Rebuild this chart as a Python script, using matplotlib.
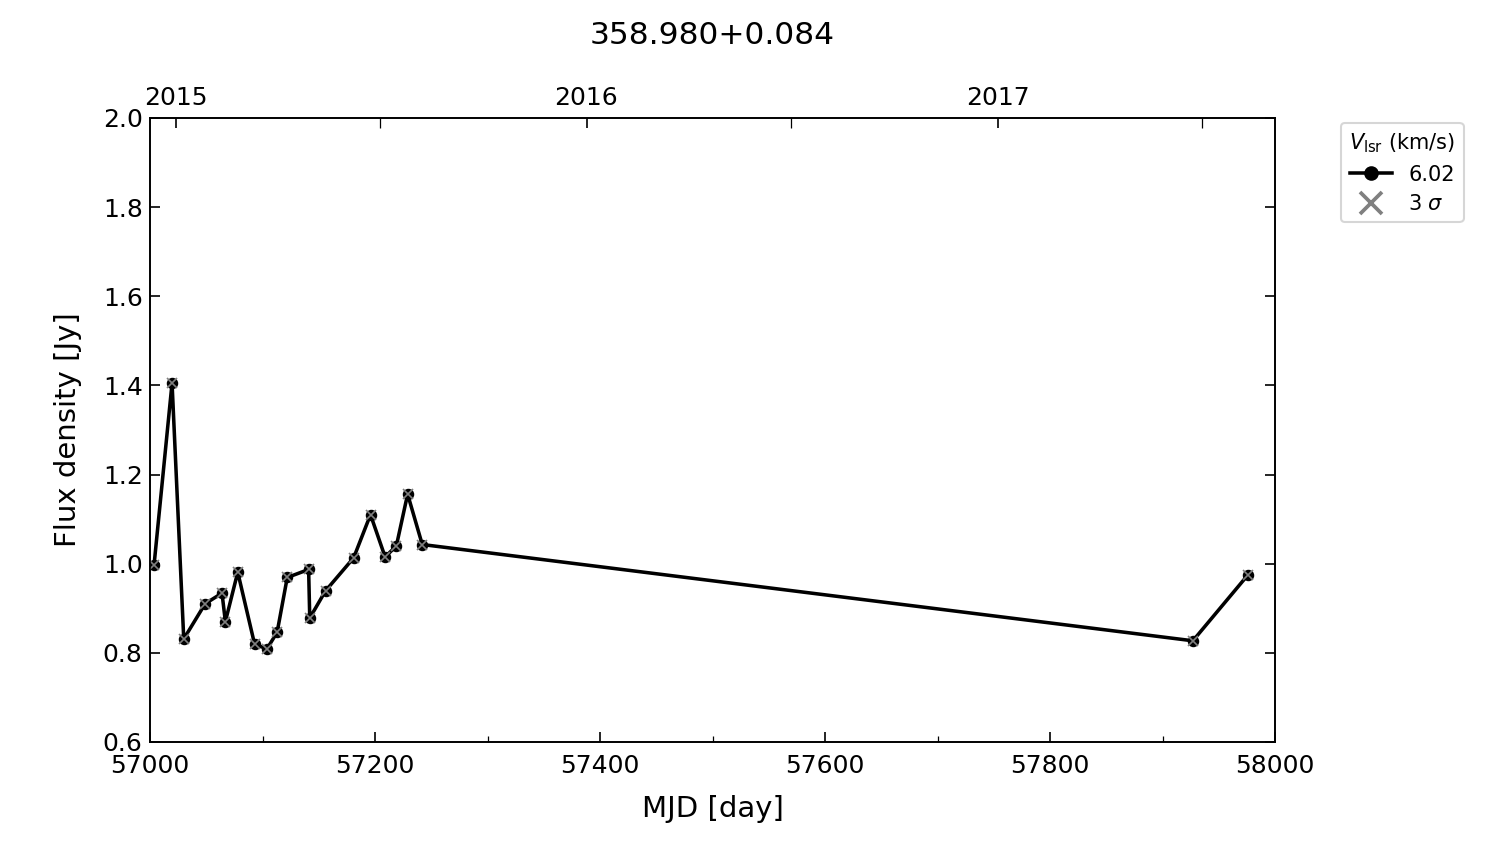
import matplotlib
matplotlib.use("Agg")
import matplotlib.pyplot as plt
from matplotlib.lines import Line2D
from matplotlib.ticker import MultipleLocator, FixedLocator

# Data
mjd = [57003.6, 57019.6, 57030, 57049, 57064, 57067, 57078, 57093, 57104, 57113,
       57122, 57141, 57142, 57156, 57181, 57196, 57209, 57219, 57229, 57242,
       57927, 57976]
flux = [0.997, 1.405, 0.831, 0.910, 0.934, 0.870, 0.981, 0.819, 0.809, 0.846,
        0.969, 0.987, 0.878, 0.939, 1.013, 1.110, 1.015, 1.040, 1.156, 1.043,
        0.827, 0.975]
title = "358.980+0.084"
vlsr_label = "6.02"
year_mjd = [57023, 57388, 57754]
year_labels = ["2015", "2016", "2017"]
halfyear_mjd = [57204, 57570, 57935]

fig = plt.figure(figsize=(10, 5.6267), dpi=150)
ax = fig.add_axes([0.1, 0.1209, 0.75, 0.7393])

ax.plot(mjd, flux, color="black", lw=1.7, marker="o", ms=4.5, zorder=2)
ax.plot(mjd, flux, ls="none", marker="x", ms=5, mew=0.8, color="grey", zorder=3)

ax.set_xlim(57000, 58000)
ax.set_ylim(0.6, 2.0)
ax.xaxis.set_major_locator(MultipleLocator(200))
ax.xaxis.set_minor_locator(MultipleLocator(100))
ax.yaxis.set_major_locator(MultipleLocator(0.2))
ax.tick_params(axis="both", which="both", direction="in", labelsize=12)
ax.tick_params(axis="y", which="both", right=True)
ax.tick_params(which="major", length=5)
ax.tick_params(which="minor", length=3)
ax.tick_params(axis="x", which="major", pad=6)
ax.set_xlabel("MJD [day]", fontsize=14, labelpad=8)
ax.set_ylabel("Flux density [Jy]", fontsize=14, labelpad=10)

ax2 = ax.twiny()
ax2.set_xlim(ax.get_xlim())
ax2.xaxis.set_major_locator(FixedLocator(year_mjd))
ax2.set_xticklabels(year_labels)
ax2.xaxis.set_minor_locator(FixedLocator(halfyear_mjd))
ax2.tick_params(axis="x", which="both", direction="in", labelsize=12, length=5, pad=4)

fig.text(0.475, 1 - 35 / 844, title, fontsize=15, ha="center", va="center")

handles = [
    Line2D([], [], color="black", lw=1.7, marker="o", ms=6),
    Line2D([], [], ls="none", marker="x", ms=11, mew=1.8, color="grey"),
]
ax.legend(handles, [vlsr_label, r"3 $\sigma$"], title=r"$V_{\rm lsr}$ (km/s)",
          loc="upper left", bbox_to_anchor=(1.054, 1.0), fontsize=10,
          title_fontsize=10, handlelength=2.0, borderaxespad=0.25,
          labelspacing=0.45)

fig.savefig("out.png", dpi=150)
